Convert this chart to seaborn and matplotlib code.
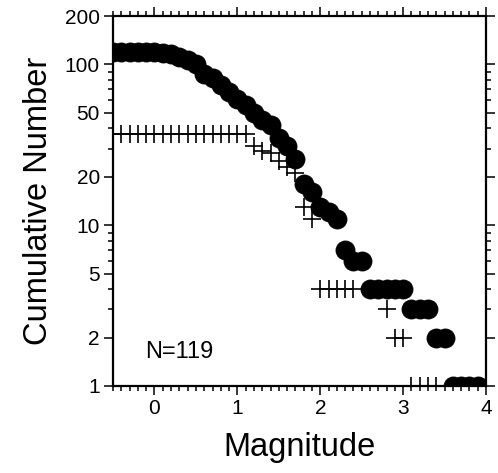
import numpy as np
import pandas as pd
import seaborn as sns
import matplotlib.pyplot as plt
from matplotlib.ticker import FixedLocator, NullFormatter, MultipleLocator

# Cumulative number of events (filled circles), magnitude steps of 0.1
circle_mag = [-0.5, -0.4, -0.3, -0.2, -0.1, 0.0, 0.1, 0.2, 0.3, 0.4,
              0.5, 0.6, 0.7, 0.8, 0.9, 1.0, 1.1, 1.2, 1.3, 1.4,
              1.5, 1.6, 1.7, 1.8, 1.9, 2.0, 2.1, 2.2, 2.3, 2.4,
              2.5, 2.6, 2.7, 2.8, 2.9, 3.0, 3.1, 3.2, 3.3, 3.4,
              3.5, 3.6, 3.7, 3.8, 3.9]
circle_num = [119, 119, 119, 119, 119, 119, 118, 116, 112, 107,
              100, 87, 82, 74, 67, 61, 56, 50, 45, 42,
              35, 31, 26, 18, 16, 13, 12, 11, 7, 6,
              6, 4, 4, 4, 4, 4, 3, 3, 3, 2,
              2, 1, 1, 1, 1]

# Second series (plus signs)
plus_mag = [-0.5, -0.4, -0.3, -0.2, -0.1, 0.0, 0.1, 0.2, 0.3, 0.4,
            0.5, 0.6, 0.7, 0.8, 0.9, 1.0, 1.1, 1.2, 1.3, 1.4,
            1.5, 1.6, 1.7, 1.8, 1.9, 2.0, 2.1, 2.2, 2.3, 2.4,
            2.8, 2.9, 3.0, 3.1, 3.2, 3.3, 3.4]
plus_num = [37, 37, 37, 37, 37, 37, 37, 37, 37, 37,
            37, 37, 37, 37, 37, 37, 37, 31, 29, 28,
            25, 23, 21, 13, 11, 4, 4, 4, 4, 4,
            3, 2, 2, 1, 1, 1, 1]

y_major = [1, 2, 5, 10, 20, 50, 100, 200]
y_minor = [3, 4, 6, 7, 8, 9, 30, 40, 60, 70, 80, 90]
x_major = [0, 1, 2, 3, 4]

circles = pd.DataFrame({"mag": circle_mag, "num": circle_num})
pluses = pd.DataFrame({"mag": plus_mag, "num": plus_num})

sns.set_style("ticks")
plt.rcParams['font.family'] = ['Liberation Sans', 'DejaVu Sans']
plt.rcParams['text.color'] = 'black'
plt.rcParams['axes.labelcolor'] = 'black'
plt.rcParams['xtick.color'] = 'black'
plt.rcParams['ytick.color'] = 'black'

fig = plt.figure(figsize=(4.98, 4.73), dpi=100)
ax = fig.add_axes([0.227, 0.184, 0.749, 0.782])

sns.scatterplot(data=pluses, x="mag", y="num", marker="+", s=170,
                color="black", linewidth=1.2, ax=ax, zorder=2)
sns.scatterplot(data=circles, x="mag", y="num", marker="o", s=190,
                color="black", edgecolor="black", linewidth=0.5, ax=ax, zorder=3)

ax.set_yscale("log")
ax.set_xlim(-0.5, 4.0)
ax.set_ylim(1, 200)

ax.yaxis.set_major_locator(FixedLocator(y_major))
ax.set_yticklabels([str(v) for v in y_major])
ax.yaxis.set_minor_locator(FixedLocator(y_minor))
ax.yaxis.set_minor_formatter(NullFormatter())
ax.xaxis.set_major_locator(FixedLocator(x_major))
ax.set_xticklabels([str(v) for v in x_major])
ax.xaxis.set_minor_locator(MultipleLocator(0.1))

ax.tick_params(which="both", direction="out", top=True, right=True,
               labeltop=False, labelright=False, width=1.1,
               color="black", labelcolor="black")
ax.tick_params(which="major", length=6.5, labelsize=15, pad=3)
ax.tick_params(which="minor", length=3.5)
for sp in ax.spines.values():
    sp.set_visible(True)
    sp.set_linewidth(1.6)
    sp.set_color("black")

ax.set_xlabel("Magnitude", fontsize=23.5, labelpad=10, color="black")
ax.set_ylabel("Cumulative Number", fontsize=23.5, labelpad=8, color="black")
ax.text(0.086, 0.093, "N=119", transform=ax.transAxes, fontsize=17,
        va="center", ha="left", color="black")

plt.savefig("out.png", dpi=100)
